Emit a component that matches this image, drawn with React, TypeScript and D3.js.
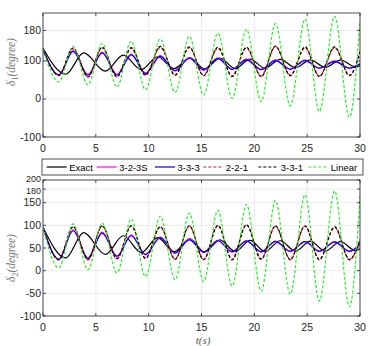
import * as d3 from "d3";

// extrema times (s) shared by the approximate models
const approxTimes = [0, 1.5, 2.85, 4.25, 5.6, 7.0, 8.35, 9.7, 11.1, 12.5, 13.85, 15.2, 16.55, 17.9, 19.25, 20.65, 22.0, 23.4, 24.8, 26.15, 27.6, 29.0, 30];
// extrema times (s) for the exact solution
const exactTimes = [0, 2.15, 3.85, 5.9, 7.6, 9.3, 10.85, 12.4, 13.9, 15.3, 16.75, 18.2, 19.6, 21.0, 22.45, 23.9, 25.3, 26.7, 28.15, 29.6, 30];

// delta_1 (top panel)
const exactTop = [133, 65, 121, 73, 115, 77, 111, 80, 108, 79, 107, 80, 105, 81, 104, 82, 103, 83, 102, 84, 88];
const s323Top = [130, 64, 127, 64, 123, 65, 118, 68, 114, 75, 109, 77, 108, 78, 105, 78, 103, 79, 102, 81, 100, 81, 93];
const s333Top = [130, 63, 125, 63, 121, 63, 116, 67, 112, 74, 107, 76, 106, 78, 103, 77, 101, 78, 101, 81, 98, 81, 92];
const s221Top = [130, 63, 132, 59, 134, 59, 133, 64, 136, 64, 135, 63, 133, 60, 134, 60, 138, 63, 134, 60, 135, 63, 122];
const s331Top = [130, 62, 134, 58, 136, 58, 135, 62, 138, 62, 137, 61, 136, 59, 136, 59, 139, 61, 137, 59, 137, 61, 125];
const linearTop = [130, 45, 138, 37, 146, 31, 152, 24, 158, 17, 165, 10, 173, 2, 183, -7, 198, -18, 210, -33, 217, -48, 205];

// delta_2 (bottom panel)
const exactBottom = [96, 28, 84, 36, 77, 40, 73, 42, 70, 41, 68, 42, 67, 42, 66, 43, 65, 43, 64, 44, 48];
const s323Bottom = [96, 25, 90, 27, 85, 31, 79, 35, 74, 38, 70, 40, 67, 41, 66, 41, 65, 42, 64, 42, 64, 42, 59];
const s333Bottom = [96, 25, 88, 28, 83, 32, 77, 36, 73, 39, 68, 41, 66, 42, 65, 42, 64, 43, 64, 43, 63, 43, 58];
const s221Bottom = [96, 25, 96, 25, 98, 27, 98, 28, 96, 26, 98, 25, 99, 25, 101, 26, 98, 25, 98, 25, 95, 25, 66];
const s331Bottom = [96, 24, 97, 24, 99, 26, 99, 27, 97, 25, 99, 24, 100, 24, 101, 25, 99, 24, 99, 24, 97, 24, 68];
const linearBottom = [96, 6, 103, 2, 105, -5, 114, -13, 120, -20, 127, -24, 133, -34, 146, -45, 155, -52, 167, -67, 176, -80, 165];

const seriesNames = ["Exact", "3-2-3S", "3-3-3", "2-2-1", "3-3-1", "Linear"];
const xTicks = [0, 5, 10, 15, 20, 25, 30];
const topYTicks = [-100, 0, 100, 180];
const bottomYTicks = [-100, -50, 0, 50, 100, 150, 180, 200];

const STYLES = [
  { color: "#000000", dash: null },
  { color: "#ff00ff", dash: null },
  { color: "#0000ff", dash: null },
  { color: "#ff0000", dash: "3,2" },
  { color: "#000000", dash: "3,2" },
  { color: "#22ee22", dash: "3,2" },
];

const FONT = "'Liberation Sans', Arial, Helvetica, sans-serif";
const MATH = "'Liberation Serif', 'Times New Roman', serif";
const AXIS = "#262626";

type Pt = { t: number; v: number };

const zip = (ts: number[], vs: number[]): Pt[] => vs.map((v, i) => ({ t: ts[i], v }));

// the 200/180 labels sit very close together, so nudge them apart
const labelShift = (t: number, crowded: boolean) => (!crowded ? 3.5 : t === 200 ? 2 : t === 180 ? 4.5 : 3.5);

function Panel({
  id,
  top,
  bottom,
  domain,
  yTicks,
  sub,
  data,
  labelY,
  showXLabel,
}: {
  id: string;
  top: number;
  bottom: number;
  domain: [number, number];
  yTicks: number[];
  sub: string;
  data: Pt[][];
  labelY: number;
  showXLabel?: boolean;
}) {
  const left = 43;
  const right = 360;
  const x = d3.scaleLinear().domain([0, 30]).range([left, right]);
  const y = d3.scaleLinear().domain(domain).range([bottom, top]);
  const line = d3
    .line<Pt>()
    .x((d) => x(d.t))
    .y((d) => y(d.v))
    .curve(d3.curveMonotoneX);
  const crowded = yTicks.includes(200);

  return (
    <g>
      <defs>
        <clipPath id={id}>
          <rect x={left} y={top} width={right - left} height={bottom - top} />
        </clipPath>
      </defs>
      {/* grid */}
      {xTicks.map((t) => (
        <line key={"gx" + t} x1={x(t)} x2={x(t)} y1={top} y2={bottom} stroke="#e3e3e3" strokeWidth={0.7} />
      ))}
      {yTicks.map((t) => (
        <line key={"gy" + t} x1={left} x2={right} y1={y(t)} y2={y(t)} stroke="#e3e3e3" strokeWidth={0.7} />
      ))}
      {/* traces */}
      <g clipPath={`url(#${id})`}>
        {data.map((d, i) => (
          <path
            key={i}
            d={line(d) ?? ""}
            fill="none"
            stroke={STYLES[i].color}
            strokeWidth={1.2}
            strokeDasharray={STYLES[i].dash ?? undefined}
          />
        ))}
      </g>
      {/* box + ticks */}
      <rect x={left} y={top} width={right - left} height={bottom - top} fill="none" stroke={AXIS} strokeWidth={0.8} />
      {xTicks.map((t) => (
        <g key={"tx" + t}>
          <line x1={x(t)} x2={x(t)} y1={bottom} y2={bottom - 3} stroke={AXIS} strokeWidth={0.8} />
          <line x1={x(t)} x2={x(t)} y1={top} y2={top + 3} stroke={AXIS} strokeWidth={0.8} />
          <text x={x(t)} y={bottom + 14.5} textAnchor="middle" fontSize={10.5} fontFamily={FONT} fill={AXIS}>
            {t}
          </text>
        </g>
      ))}
      {yTicks.map((t) => (
        <g key={"ty" + t}>
          <line x1={left} x2={left + 3} y1={y(t)} y2={y(t)} stroke={AXIS} strokeWidth={0.8} />
          <line x1={right} x2={right - 3} y1={y(t)} y2={y(t)} stroke={AXIS} strokeWidth={0.8} />
          <text
            x={left - 2}
            y={y(t) + labelShift(t, crowded)}
            textAnchor="end"
            fontSize={crowded && t >= 180 ? 9 : 10.5}
            fontFamily={FONT}
            fill={AXIS}
          >
            {t}
          </text>
        </g>
      ))}
      <text
        transform={`translate(15,${labelY}) rotate(-90)`}
        textAnchor="middle"
        fontSize={11.5}
        fontFamily={MATH}
        fontStyle="italic"
        fill="#777"
      >
        δ
        <tspan fontSize={8} dy={2.5} fontStyle="normal">
          {sub}
        </tspan>
        <tspan dy={-2.5}>(degree)</tspan>
      </text>
      {showXLabel && (
        <text x={203} y={343.5} textAnchor="middle" fontSize={11} fontFamily={MATH} fontStyle="italic" fill="#555">
          t(s)
        </text>
      )}
    </g>
  );
}

function Legend() {
  const starts = [46.7, 96.7, 155, 203.3, 258.3, 308.3];
  const cy = 167;
  return (
    <g>
      <rect x={42} y={159} width={321} height={16} fill="#fff" stroke={AXIS} strokeWidth={0.8} />
      {seriesNames.map((name, i) => (
        <g key={name}>
          <line
            x1={starts[i]}
            x2={starts[i] + 20}
            y1={cy}
            y2={cy}
            stroke={STYLES[i].color}
            strokeWidth={1.2}
            strokeDasharray={STYLES[i].dash ?? undefined}
          />
          <text x={starts[i] + 22.5} y={cy + 3.5} fontSize={9.5} fontFamily={FONT} fill="#000">
            {name}
          </text>
        </g>
      ))}
    </g>
  );
}

export default function App() {
  const topData = [
    zip(exactTimes, exactTop),
    zip(approxTimes, s323Top),
    zip(approxTimes, s333Top),
    zip(approxTimes, s221Top),
    zip(approxTimes, s331Top),
    zip(approxTimes, linearTop),
  ];
  const bottomData = [
    zip(exactTimes, exactBottom),
    zip(approxTimes, s323Bottom),
    zip(approxTimes, s333Bottom),
    zip(approxTimes, s221Bottom),
    zip(approxTimes, s331Bottom),
    zip(approxTimes, linearBottom),
  ];
  return (
    <svg
      width={368}
      height={346}
      viewBox="0 0 368 346"
      style={{ position: "absolute", left: 0, top: 0, background: "#fff" }}
    >
      <rect width={368} height={346} fill="#fff" />
      <Panel id="clipTop" top={13} bottom={137} domain={[-100, 226]} yTicks={topYTicks} sub="1" data={topData} labelY={62} />
      <Legend />
      <Panel
        id="clipBottom"
        top={180}
        bottom={316}
        domain={[-100, 200]}
        yTicks={bottomYTicks}
        sub="2"
        data={bottomData}
        labelY={258}
        showXLabel
      />
    </svg>
  );
}
